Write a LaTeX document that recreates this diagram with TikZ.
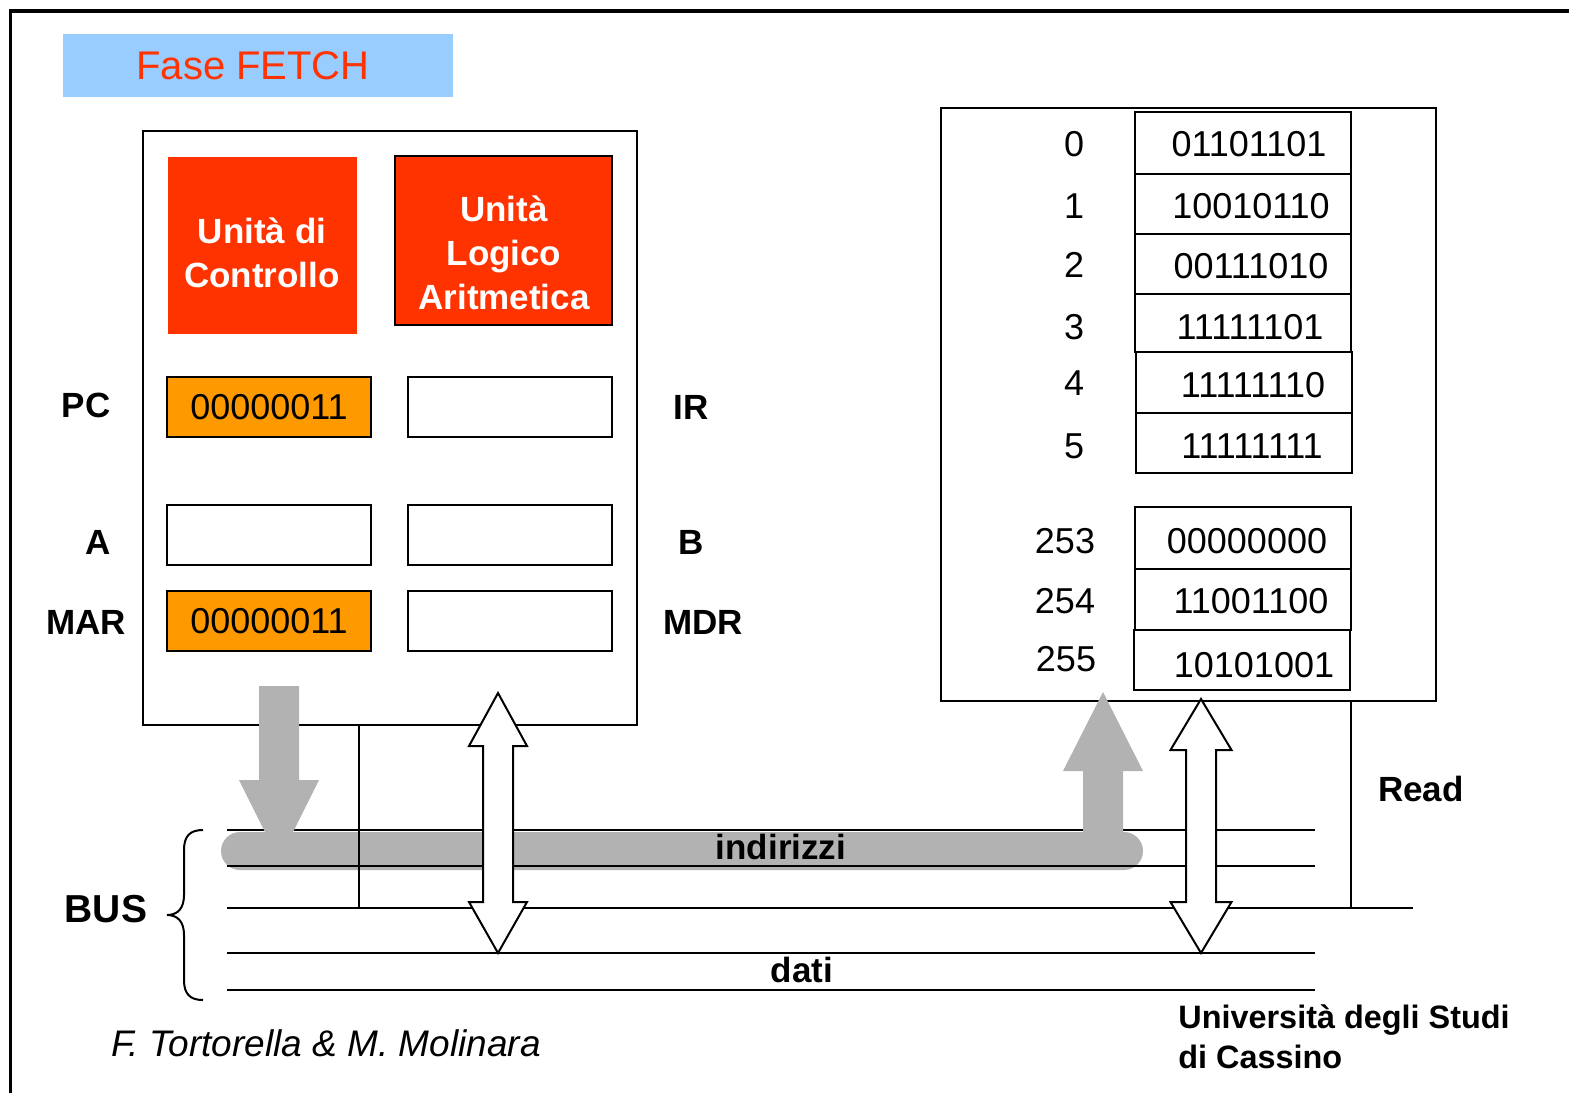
\documentclass[tikz,border=0pt]{standalone}
\usepackage{fontspec}
\setmainfont{Liberation Sans}
\newcommand{\fsz}[2]{\fontsize{#1pt}{#2pt}\selectfont}
\definecolor{fetchblue}{RGB}{153,204,255}
\definecolor{fetchred}{RGB}{255,51,0}
\definecolor{regorange}{RGB}{255,153,0}
\definecolor{busgray}{RGB}{178,178,178}
\tikzset{
  box/.style={draw, line width=1pt, inner sep=0pt, outer sep=0pt},
  reg/.style={draw, line width=1pt, inner sep=0pt, outer sep=0pt, minimum width=102pt, minimum height=30pt, font=\fsz{18}{21}},
  cell/.style={draw, line width=1pt, inner sep=0pt, outer sep=0pt, minimum width=108pt},
  unit/.style={text=white, font=\bfseries\fsz{17.5}{22}, align=center, inner sep=0pt},
  lbl/.style={font=\bfseries\fsz{17.5}{21}, inner sep=0pt},
  val/.style={font=\fsz{18}{21}, inner sep=0pt},
  wire/.style={line width=1pt},
  graybar/.style={fill=busgray, draw=none},
  dblarrow/.style={draw, line width=1pt, fill=white, line join=miter}
}
\begin{document}
\begin{tikzpicture}[x=0.5pt, y=-0.5pt]
\useasboundingbox (0,0) rectangle (1569,1093);
% frame
\draw[line width=1.6pt] (10.5,1093) -- (10.5,11) -- (1569,11);
% title
\node[fill=fetchblue, minimum width=195pt, minimum height=31.5pt, inner sep=0pt] (title) at (258,65.5) {};
\node[font=\fsz{20}{24}, text=fetchred, inner sep=0pt] (titletext) at (253,66) {Fase FETCH};
% CPU
\node[box, minimum width=247pt, minimum height=297pt] (cpu) at (390,428) {};
\node[fill=fetchred, inner sep=0pt, minimum width=94.5pt, minimum height=88.5pt] (cu) at (262.5,245.5) {};
\node[unit] (cutext) at (262,253) {Unità di\\Controllo};
\node[box, fill=fetchred, minimum width=108.5pt, minimum height=84.5pt] (alu) at (503.5,240.5) {};
\node[unit] (alutext) at (504,253) {Unità\\Logico\\Aritmetica};
\node[reg, fill=regorange] (pc) at (269,407) {00000011};
\node[reg] (ir) at (510,407) {};
\node[reg] (a) at (269,535) {};
\node[reg] (b) at (510,535) {};
\node[reg, fill=regorange] (mar) at (269,621) {00000011};
\node[reg] (mdr) at (510,621) {};
\node[lbl] (pcl) at (86,405) {PC};
\node[lbl] (irl) at (691,407) {IR};
\node[lbl] (al) at (98,542) {A};
\node[lbl] (bl) at (691,542) {B};
\node[lbl] (marl) at (86,622) {MAR};
\node[lbl] (mdrl) at (703,622) {MDR};
% memory
\node[box, minimum width=247.5pt, minimum height=296.5pt] (mem) at (1188.5,404.5) {};
\node[cell, minimum height=31pt] (c0) at (1243,143) {};
\node[cell, minimum height=30pt] (c1) at (1243,204) {};
\node[cell, minimum height=30pt] (c2) at (1243,264) {};
\node[cell, minimum height=29pt] (c3) at (1243,323) {};
\node[cell, minimum height=30.5pt] (c4) at (1244,382.5) {};
\node[cell, minimum height=30pt] (c5) at (1244,443) {};
\node[cell, minimum height=31pt] (c253) at (1243,538) {};
\node[cell, minimum height=30.5pt] (c254) at (1243,599.5) {};
\node[cell, minimum height=30pt, line width=1.3pt] (c255) at (1242,660) {};
\node[val] (v0) at (1249,144) {01101101};
\node[val] (v1) at (1251,206) {10010110};
\node[val] (v2) at (1251,266) {00111010};
\node[val] (v3) at (1250,327) {11111101};
\node[val] (v4) at (1253,385) {11111110};
\node[val] (v5) at (1252,446) {11111111};
\node[val] (v253) at (1247,541) {00000000};
\node[val] (v254) at (1251,601) {11001100};
\node[val] (v255) at (1254,665) {10101001};
\node[val] (a0) at (1074,144) {0};
\node[val] (a1) at (1074,206) {1};
\node[val] (a2) at (1074,265) {2};
\node[val] (a3) at (1074,327) {3};
\node[val] (a4) at (1074,383) {4};
\node[val] (a5) at (1074,446) {5};
\node[val] (a253) at (1065,541) {253};
\node[val] (a254) at (1065,601) {254};
\node[val] (a255) at (1066,659) {255};
% bus
\fill[graybar, rounded corners=9.5pt] (221,832) rectangle (1143,870);
\coordinate (l1a) at (227,830); \coordinate (l1b) at (1315,830);
\coordinate (l2a) at (227,866); \coordinate (l2b) at (1315,866);
\coordinate (l3a) at (227,908); \coordinate (l3b) at (1413,908);
\coordinate (l4a) at (227,953); \coordinate (l4b) at (1315,953);
\coordinate (l5a) at (227,990); \coordinate (l5b) at (1315,990);
\draw[wire] (l1a) -- (l1b);
\draw[wire] (l2a) -- (l2b);
\draw[wire] (l3a) -- (l3b);
\draw[wire] (l4a) -- (l4b);
\draw[wire] (l5a) -- (l5b);
% gray arrows
\fill[graybar] (259,686) -- (299,686) -- (299,780) -- (319,780) -- (279,860) -- (239,780) -- (259,780) -- cycle;
\fill[graybar] (1083,850) -- (1123,850) -- (1123,771) -- (1143,771) -- (1103,692) -- (1063,771) -- (1083,771) -- cycle;
% control lines
\coordinate (ctl) at (359,908);
\coordinate (rd) at (1351,908);
\draw[wire] (cpu.south -| ctl) -- (ctl);
\draw[wire] (mem.south -| rd) -- (rd);
% white double arrows
\draw[dblarrow] (498,693) -- (527,746) -- (513,746) -- (513,902) -- (527,902) -- (498,953) -- (469,902) -- (483,902) -- (483,746) -- (469,746) -- cycle;
\draw[dblarrow] (1201,699) -- (1231.5,750) -- (1216,750) -- (1216,902) -- (1231.5,902) -- (1201,953) -- (1170.5,902) -- (1186,902) -- (1186,750) -- (1170.5,750) -- cycle;
% brace
\draw[wire] (203,830) .. controls (190,830) and (184,836) .. (184,850) -- (184,895) .. controls (184,908) and (178,915) .. (167,915) .. controls (178,915) and (184,922) .. (184,935) -- (184,980) .. controls (184,994) and (190,1000) .. (203,1000);
% labels
\node[font=\bfseries\fsz{19.5}{23}, inner sep=0pt] (bus) at (106,909) {BUS};
\node[lbl] (read) at (1421,789) {Read};
\node[lbl] (indir) at (781,847) {indirizzi};
\node[lbl] (dati) at (802,970) {dati};
\node[font=\itshape\fsz{18.5}{22}, inner sep=0pt] (auth) at (326,1043) {F. Tortorella \& M. Molinara};
\node[font=\bfseries\fsz{16.2}{20}, inner sep=0pt, anchor=base west] (uni1) at (1178,1028) {Università degli Studi};
\node[font=\bfseries\fsz{16.2}{20}, inner sep=0pt, anchor=base west] (uni2) at (1178,1068) {di Cassino};
\end{tikzpicture}
\end{document}
